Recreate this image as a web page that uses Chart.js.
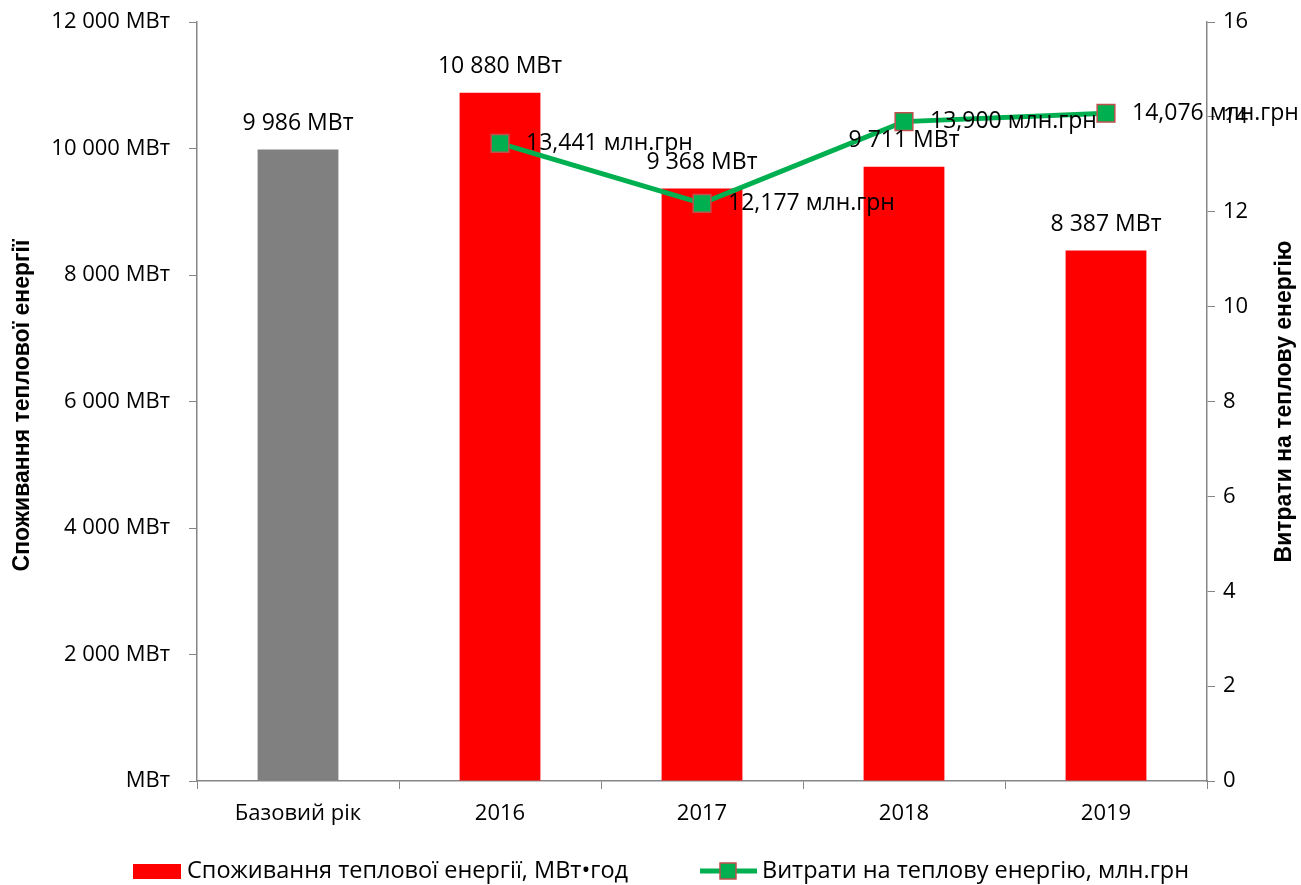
<!DOCTYPE html>
<html>
<head>
<meta charset="utf-8">
<script src="https://cdn.jsdelivr.net/npm/chart.js@4.4.1/dist/chart.umd.min.js"></script>
<style>
  html, body { margin: 0; padding: 0; background: #fff; }
  #wrap { width: 1301px; height: 885px; }
</style>
</head>
<body>
<div id="wrap"><canvas id="myChart" width="1301" height="885"></canvas></div>
<script>
// categories and values
const categories = ["Базовий рік", "2016", "2017", "2018", "2019"];
const heatUse = [9986, 10880, 9368, 9711, 8387];          // МВт•год
const heatCost = [null, 13.441, 12.177, 13.900, 14.076];  // млн.грн
const barColors = ["#808080", "#FF0000", "#FF0000", "#FF0000", "#FF0000"];
const leftTicks = [0, 2000, 4000, 6000, 8000, 10000, 12000];
const rightTicks = [0, 2, 4, 6, 8, 10, 12, 14, 16];

const FONT = "Open Sans";
const TITLE_FONT = "Liberation Sans";
const axisGray = "#868686";

function mwt(v) {
    if (v === 0) return "МВт";
    return String(v).replace(/\B(?=(\d{3})+(?!\d))/g, " ") + " МВт";
}

// value labels, axis titles and legend drawn by hand
const extras = {
    id: "extras",
    afterDatasetsDraw(chart) {
        const ctx = chart.ctx;
        ctx.save();
        ctx.font = "23px '" + FONT + "'";
        ctx.fillStyle = "#000";
        ctx.textBaseline = "middle";

        chart.getDatasetMeta(0).data.forEach((bar, i) => {
            ctx.textAlign = "center";
            ctx.fillText(mwt(heatUse[i]), bar.x, bar.y - 26);
        });
        chart.getDatasetMeta(1).data.forEach((pt, i) => {
            if (heatCost[i] == null) return;
            ctx.textAlign = "left";
            ctx.fillText(heatCost[i].toFixed(3).replace(".", ",") + " млн.грн", pt.x + 26, pt.y);
        });

        // axis titles
        ctx.font = "bold 23px '" + TITLE_FONT + "'";
        ctx.textAlign = "center";
        const midY = (chart.chartArea.top + chart.chartArea.bottom) / 2;
        ctx.save();
        ctx.translate(23, midY + 4);
        ctx.rotate(-Math.PI / 2);
        ctx.fillText("Споживання теплової енергії", 0, 0);
        ctx.restore();
        ctx.save();
        ctx.translate(1285, midY);
        ctx.rotate(-Math.PI / 2);
        ctx.fillText("Витрати на теплову енергію", 0, 0);
        ctx.restore();

        // legend
        const ly = 871;
        ctx.font = "23.5px '" + FONT + "'";
        ctx.textAlign = "left";
        ctx.fillStyle = "#FF0000";
        ctx.fillRect(133, ly - 7, 48, 15);
        ctx.fillStyle = "#000";
        ctx.fillText("Споживання теплової енергії, МВт•год", 187, ly);

        ctx.strokeStyle = "#00B050";
        ctx.lineWidth = 5;
        ctx.beginPath();
        ctx.moveTo(700, ly);
        ctx.lineTo(757, ly);
        ctx.stroke();
        ctx.fillStyle = "#00B050";
        ctx.strokeStyle = "#C0504D";
        ctx.lineWidth = 1.5;
        ctx.fillRect(720, ly - 8, 16, 16);
        ctx.strokeRect(720, ly - 8, 16, 16);
        ctx.fillStyle = "#000";
        ctx.fillText("Витрати на теплову енергію, млн.грн", 762, ly);
        ctx.restore();
    }
};

new Chart("myChart", {
    data: {
        labels: categories,
        datasets: [
            {
                type: "bar",
                data: heatUse,
                backgroundColor: barColors,
                yAxisID: "y",
                barPercentage: 0.8,
                categoryPercentage: 0.5,
                order: 2,
            },
            {
                type: "line",
                data: heatCost,
                yAxisID: "y1",
                borderColor: "#00B050",
                borderWidth: 5,
                pointStyle: "rect",
                pointRadius: 12.5,
                pointBackgroundColor: "#00B050",
                pointBorderColor: "#C0504D",
                pointBorderWidth: 1.5,
                spanGaps: true,
                order: 1,
            },
        ],
    },
    options: {
        responsive: false,
        animation: false,
        layout: { padding: { top: 22, left: 0, right: 0, bottom: 0 } },
        plugins: {
            legend: { display: false },
            tooltip: { enabled: false },
        },
        scales: {
            x: {
                grid: { offset: true, drawOnChartArea: false, color: axisGray, tickLength: 8 },
                border: { color: axisGray, width: 1.5 },
                ticks: { color: "#000", font: { family: FONT, size: 22 }, padding: 12 },
                afterFit: s => { s.height = 104; s.paddingLeft = 0; s.paddingRight = 0; },
            },
            y: {
                position: "left",
                min: 0,
                max: 12000,
                afterBuildTicks: s => { s.ticks = leftTicks.map(v => ({ value: v })); },
                grid: { drawOnChartArea: false, color: axisGray, tickLength: 8 },
                border: { color: axisGray, width: 1.5 },
                ticks: { color: "#000", font: { family: FONT, size: 22 }, padding: 19, callback: v => mwt(v) },
                afterFit: s => { s.width = 197; s.paddingTop = 0; s.paddingBottom = 0; },
            },
            y1: {
                position: "right",
                min: 0,
                max: 16,
                afterBuildTicks: s => { s.ticks = rightTicks.map(v => ({ value: v })); },
                grid: { drawOnChartArea: false, color: axisGray, tickLength: 8 },
                border: { color: axisGray, width: 1.5 },
                ticks: { color: "#000", font: { family: FONT, size: 22 }, padding: 8 },
                afterFit: s => { s.width = 94; s.paddingTop = 0; s.paddingBottom = 0; },
            },
        },
    },
    plugins: [extras],
});
</script>
</body>
</html>
